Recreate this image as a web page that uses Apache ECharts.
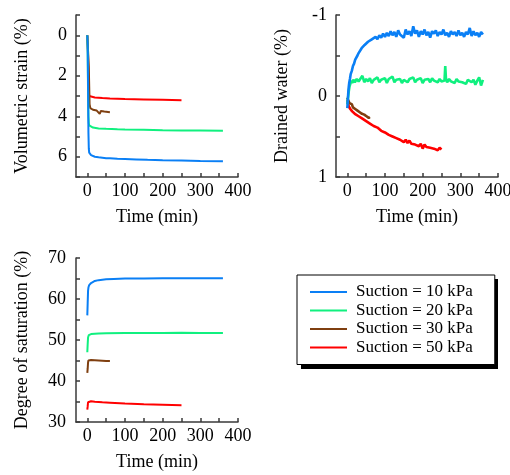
<!DOCTYPE html>
<html>
<head>
<meta charset="utf-8">
<script src="https://cdn.jsdelivr.net/npm/echarts@6/dist/echarts.min.js"></script>
<style>
html,body{margin:0;padding:0;background:#fff;}
#chart{width:510px;height:475px;}
</style>
</head>
<body>
<div id="chart"></div>
<script>
// ---------- Data ----------
const seriesNames = ['Suction = 10 kPa', 'Suction = 20 kPa', 'Suction = 30 kPa', 'Suction = 50 kPa'];
const seriesColors = ['#0a7ff5', '#10f07f', '#7f3f10', '#ff0000'];
const xTickLabels = [0, 100, 200, 300, 400];
const xTickMarks = [0, 50, 100, 150, 200, 250, 300, 350, 400];
const strainTickLabels = [0, 2, 4, 6];
const drainedTickLabels = [-1, 0, 1];
const saturationTickLabels = [30, 40, 50, 60, 70];

// Volumetric strain (%)
const strainTime10 = [0, 1, 2, 3, 4, 5, 7, 10, 15, 20, 30, 40, 50, 60, 80, 100, 130, 160, 200, 250, 300, 360];
const strain10 = [0, 0.5, 2.5, 4.8, 5.6, 5.8, 5.87, 5.92, 5.97, 6.0, 6.03, 6.05, 6.07, 6.08, 6.1, 6.11, 6.13, 6.15, 6.17, 6.19, 6.21, 6.22];
const strainTime20 = [0, 1, 2, 3, 4, 5, 7, 10, 15, 20, 30, 50, 80, 100, 150, 200, 250, 300, 360];
const strain20 = [0, 0.8, 2.8, 4.0, 4.35, 4.45, 4.5, 4.53, 4.56, 4.58, 4.6, 4.62, 4.64, 4.65, 4.67, 4.69, 4.7, 4.7, 4.71];
const strainTime30 = [0, 2, 4, 5, 6, 8, 10, 15, 20, 25, 30, 33, 36, 40, 45, 50, 55, 60];
const strain30 = [0, 0.8, 1.6, 2.5, 3.4, 3.6, 3.65, 3.68, 3.7, 3.72, 3.75, 3.88, 3.74, 3.76, 3.77, 3.78, 3.79, 3.8];
const strainTime50 = [0, 2, 3, 4, 5, 7, 10, 20, 40, 60, 100, 150, 200, 250];
const strain50 = [0, 1, 2, 2.8, 3.0, 3.03, 3.05, 3.07, 3.1, 3.12, 3.15, 3.17, 3.19, 3.21];

// Drained water (%)
const drainedTime10 = [0, 1, 2, 3, 4, 5, 7, 9, 12, 15, 18, 21, 24, 27, 30, 34, 38, 42, 46, 50, 55, 60, 65, 70, 75, 80, 85, 90, 95, 100, 105, 110, 115, 120, 125, 130, 135, 140, 145, 150, 155, 160, 165, 170, 175, 180, 185, 190, 195, 200, 205, 210, 215, 220, 225, 230, 235, 240, 245, 250, 255, 260, 265, 270, 275, 280, 285, 290, 295, 300, 305, 310, 315, 320, 325, 330, 335, 340, 345, 350, 355, 360];
const drained10 = [0.15, 0.08, 0.0, -0.07, -0.12, -0.16, -0.21, -0.27, -0.31, -0.37, -0.4, -0.45, -0.47, -0.5, -0.53, -0.55, -0.59, -0.58, -0.63, -0.62, -0.67, -0.65, -0.7, -0.68, -0.73, -0.7, -0.75, -0.72, -0.77, -0.73, -0.78, -0.74, -0.8, -0.75, -0.79, -0.73, -0.81, -0.76, -0.78, -0.72, -0.82, -0.76, -0.8, -0.74, -0.86, -0.77, -0.81, -0.73, -0.8, -0.76, -0.82, -0.75, -0.79, -0.72, -0.8, -0.77, -0.81, -0.74, -0.79, -0.76, -0.82, -0.75, -0.78, -0.73, -0.8, -0.76, -0.79, -0.74, -0.81, -0.75, -0.78, -0.73, -0.79, -0.76, -0.84, -0.74, -0.8, -0.75, -0.78, -0.73, -0.79, -0.76];
const drainedTime20 = [0, 2, 4, 6, 8, 10, 13, 16, 20, 25, 30, 35, 40, 45, 50, 55, 60, 65, 70, 75, 80, 85, 90, 95, 100, 105, 110, 115, 120, 125, 130, 135, 140, 145, 150, 155, 160, 165, 170, 175, 180, 185, 190, 195, 200, 205, 210, 215, 220, 225, 230, 235, 240, 245, 250, 255, 258, 260, 262, 265, 270, 275, 280, 285, 290, 295, 300, 305, 310, 315, 320, 325, 330, 335, 340, 345, 350, 355, 360];
const drained20 = [0.1, 0.02, -0.06, -0.12, -0.15, -0.19, -0.16, -0.2, -0.17, -0.21, -0.18, -0.2, -0.25, -0.17, -0.21, -0.18, -0.22, -0.16, -0.2, -0.19, -0.23, -0.17, -0.2, -0.18, -0.22, -0.16, -0.21, -0.19, -0.24, -0.17, -0.2, -0.18, -0.21, -0.16, -0.2, -0.22, -0.17, -0.21, -0.19, -0.23, -0.17, -0.2, -0.18, -0.22, -0.16, -0.2, -0.18, -0.21, -0.17, -0.22, -0.19, -0.2, -0.17, -0.21, -0.18, -0.2, -0.19, -0.37, -0.2, -0.17, -0.21, -0.18, -0.2, -0.16, -0.21, -0.18, -0.2, -0.17, -0.19, -0.15, -0.2, -0.18, -0.17, -0.2, -0.14, -0.19, -0.23, -0.13, -0.2];
const drainedTime30 = [0, 3, 6, 9, 12, 15, 18, 21, 24, 27, 30, 33, 36, 39, 42, 45, 48, 51, 54, 57, 60];
const drained30 = [0.02, 0.06, 0.09, 0.11, 0.1, 0.14, 0.13, 0.16, 0.15, 0.18, 0.17, 0.2, 0.19, 0.22, 0.21, 0.23, 0.22, 0.25, 0.24, 0.27, 0.26];
const drainedTime50 = [0, 2, 4, 6, 8, 10, 13, 16, 20, 25, 30, 35, 40, 45, 50, 55, 60, 65, 70, 75, 80, 85, 90, 95, 100, 105, 110, 115, 120, 125, 130, 135, 140, 145, 150, 155, 160, 165, 170, 175, 180, 185, 190, 195, 200, 205, 210, 215, 220, 225, 230, 235, 240, 245, 250];
const drained50 = [0.05, 0.1, 0.13, 0.12, 0.16, 0.15, 0.19, 0.18, 0.22, 0.21, 0.25, 0.24, 0.28, 0.27, 0.31, 0.3, 0.34, 0.32, 0.37, 0.36, 0.39, 0.38, 0.43, 0.41, 0.45, 0.44, 0.48, 0.46, 0.5, 0.48, 0.52, 0.5, 0.54, 0.53, 0.57, 0.54, 0.58, 0.55, 0.59, 0.57, 0.6, 0.58, 0.62, 0.59, 0.65, 0.6, 0.63, 0.61, 0.64, 0.62, 0.65, 0.63, 0.67, 0.64, 0.66];

// Degree of saturation (%)
const satTime10 = [0, 1, 2, 3, 4, 5, 7, 10, 15, 20, 30, 40, 50, 70, 100, 150, 200, 250, 300, 360];
const sat10 = [56, 59, 62, 62.8, 63.2, 63.4, 63.7, 63.9, 64.2, 64.4, 64.6, 64.7, 64.8, 64.9, 65.0, 65.0, 65.05, 65.05, 65.05, 65.05];
const satTime20 = [0, 1, 2, 3, 4, 5, 7, 10, 15, 20, 30, 50, 100, 150, 200, 250, 300, 360];
const sat20 = [47, 49, 50.6, 51.0, 51.2, 51.3, 51.4, 51.45, 51.5, 51.55, 51.6, 51.65, 51.7, 51.7, 51.7, 51.75, 51.7, 51.7];
const satTime30 = [0, 1, 2, 3, 5, 10, 20, 30, 40, 50, 60];
const sat30 = [42, 43, 44.5, 45.0, 45.1, 45.1, 45.05, 45.0, 44.95, 44.9, 44.9];
const satTime50 = [0, 1, 2, 3, 5, 10, 20, 40, 60, 100, 150, 200, 250];
const sat50 = [33, 33.8, 34.8, 35.0, 35.1, 35.05, 34.95, 34.8, 34.7, 34.5, 34.3, 34.2, 34.1];

// ---------- Build ----------
const FONT = 'Liberation Serif';
const pair = (ts, vs) => ts.map((t, i) => [t, vs[i]]);

const panels = [
  { times: [strainTime10, strainTime20, strainTime30, strainTime50], vals: [strain10, strain20, strain30, strain50] },
  { times: [drainedTime10, drainedTime20, drainedTime30, drainedTime50], vals: [drained10, drained20, drained30, drained50] },
  { times: [satTime10, satTime20, satTime30, satTime50], vals: [sat10, sat20, sat30, sat50] }
];

const axisLineStyle = { color: '#3a3a3a', width: 1.5 };
const labelStyle = { color: '#000', fontFamily: FONT, fontSize: 18 };
const nameStyle = { color: '#000', fontFamily: FONT, fontSize: 18 };

function xAxisFor(gi) {
  return {
    type: 'value', gridIndex: gi, min: -30, max: 400,
    name: 'Time (min)', nameLocation: 'middle', nameGap: 31, nameTextStyle: nameStyle,
    axisLine: { show: true, onZero: false, lineStyle: axisLineStyle },
    axisTick: { show: true, inside: true, length: 4, lineStyle: axisLineStyle, customValues: xTickMarks },
    axisLabel: Object.assign({ margin: 5, customValues: xTickLabels }, labelStyle),
    splitLine: { show: false }
  };
}

const series = [];
panels.forEach((p, gi) => {
  for (let k = 0; k < 4; k++) {
    series.push({
      name: seriesNames[k], type: 'line', xAxisIndex: gi, yAxisIndex: gi,
      data: pair(p.times[k], p.vals[k]),
      symbol: 'none', showSymbol: false,
      lineStyle: { color: seriesColors[k], width: gi === 1 ? 2.6 : 2 },
      itemStyle: { color: seriesColors[k] },
      z: 10 - k
    });
  }
});

const option = {
  animation: false,
  backgroundColor: '#fff',
  grid: [
    { left: 76, top: 15, width: 162, height: 162, containLabel: false, outerBoundsMode: 'none' },
    { left: 336, top: 15, width: 162, height: 162, containLabel: false, outerBoundsMode: 'none' },
    { left: 76, top: 258, width: 162, height: 164, containLabel: false, outerBoundsMode: 'none' }
  ],
  xAxis: [xAxisFor(0), xAxisFor(1), xAxisFor(2)],
  yAxis: [
    {
      type: 'value', gridIndex: 0, min: -1, max: 7, interval: 1, inverse: true,
      name: 'Volumetric strain (%)', nameLocation: 'middle', nameGap: 45, nameTextStyle: nameStyle,
      axisLine: { show: true, onZero: false, lineStyle: axisLineStyle },
      axisTick: { show: true, inside: true, length: 4, lineStyle: axisLineStyle },
      axisLabel: Object.assign({ margin: 9, customValues: strainTickLabels }, labelStyle),
      splitLine: { show: false }
    },
    {
      type: 'value', gridIndex: 1, min: -1, max: 1, interval: 0.5, inverse: true,
      name: 'Drained water (%)', nameLocation: 'middle', nameGap: 45, nameTextStyle: nameStyle,
      axisLine: { show: true, onZero: false, lineStyle: axisLineStyle },
      axisTick: { show: true, inside: true, length: 4, lineStyle: axisLineStyle },
      axisLabel: Object.assign({ margin: 9, customValues: drainedTickLabels }, labelStyle),
      splitLine: { show: false }
    },
    {
      type: 'value', gridIndex: 2, min: 30, max: 70, interval: 5,
      name: 'Degree of saturation (%)', nameLocation: 'middle', nameGap: 45, nameTextStyle: nameStyle,
      axisLine: { show: true, onZero: false, lineStyle: axisLineStyle },
      axisTick: { show: true, inside: true, length: 4, lineStyle: axisLineStyle },
      axisLabel: Object.assign({ margin: 10, customValues: saturationTickLabels }, labelStyle),
      splitLine: { show: false }
    }
  ],
  graphic: [
    { type: 'rect', left: 301, top: 279, z: 1, shape: { width: 197, height: 90 }, style: { fill: '#000' } }
  ],
  legend: {
    data: seriesNames,
    orient: 'vertical',
    left: 297, top: 275,
    padding: [8, 22, 8, 13],
    itemWidth: 37, itemHeight: 14, itemGap: 0.5,
    icon: 'path://M0,6.5 L37,6.5 L37,8.5 L0,8.5 Z',
    textStyle: { color: '#000', fontFamily: FONT, fontSize: 17, lineHeight: 18, padding: [0, 0, 0, 4] },
    backgroundColor: '#fff',
    borderColor: '#000', borderWidth: 1,
    z: 5,
    selectedMode: false
  },
  series: series
};

const chart = echarts.init(document.getElementById('chart'), null, { renderer: 'canvas' });
chart.setOption(option);
</script>
</body>
</html>
